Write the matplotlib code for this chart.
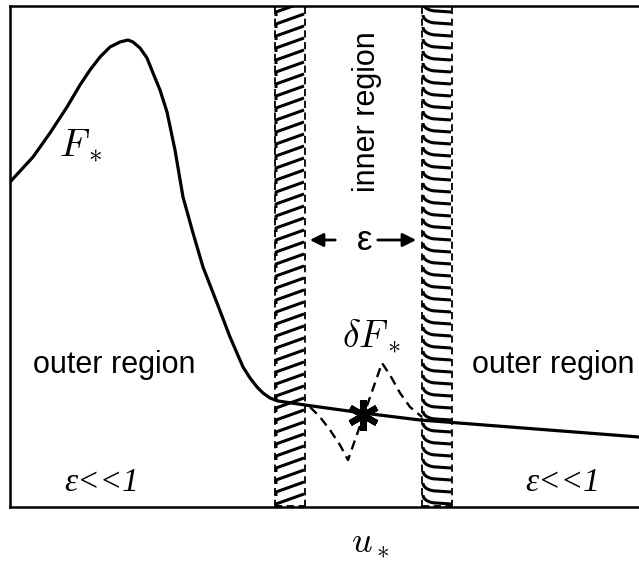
import numpy as np
import matplotlib
matplotlib.use("Agg")
import matplotlib.pyplot as plt

plt.rcParams["mathtext.fontset"] = "cm"

# outer solution F_* (arbitrary units)
u_outer = [0.00, 0.23, 0.40, 0.57, 0.70, 0.80, 0.90, 1.00, 1.10, 1.18, 1.23, 1.30,
           1.37, 1.43, 1.50, 1.57, 1.65, 1.73, 1.83, 1.93, 2.07, 2.20, 2.33, 2.40,
           2.47, 2.53, 2.60, 2.68, 2.95, 3.53, 4.10, 6.29]
F_outer = [3.25, 3.50, 3.74, 4.00, 4.22, 4.37, 4.50, 4.60, 4.65, 4.67, 4.65, 4.59,
           4.49, 4.34, 4.17, 3.95, 3.57, 3.10, 2.74, 2.40, 2.04, 1.70, 1.40, 1.29,
           1.20, 1.14, 1.09, 1.06, 1.02, 0.94, 0.87, 0.70]

# inner perturbation dF_*
u_inner = [3.00, 3.10, 3.20, 3.30, 3.38, 3.72, 3.80, 3.90, 4.00, 4.12]
dF_inner = [1.00, 0.90, 0.77, 0.62, 0.47, 1.44, 1.32, 1.14, 1.00, 0.90]

star_u, star_F = 3.53, 0.92

# matching bands (left edge, right edge)
band_left = (2.65, 2.95)
band_right = (4.12, 4.42)

xmax, ymax = 6.29, 5.01

fig = plt.figure(figsize=(6.39, 5.62), dpi=100)
ax = fig.add_axes([10/639, 55/562, 1 - 10/639, 501/562])
ax.set_xlim(0, xmax)
ax.set_ylim(0, ymax)
ax.set_xticks([])
ax.set_yticks([])
for s in ["left", "bottom", "top"]:
    ax.spines[s].set_linewidth(1.8)
ax.spines["right"].set_visible(False)

# band borders
for x0, x1 in [band_left, band_right]:
    for xb in (x0, x1):
        ax.plot([xb, xb], [0, ymax], color="black", lw=1.3, ls=(0, (4, 2.5)))
    ax.plot([x0, x1], [0.01, 0.01], color="black", lw=1.3, ls=(0, (4, 2.5)))

# left band strokes: slanted lines with a small hook
x0, x1 = band_left
for y in np.arange(0.03, ymax, 0.12):
    ax.plot([x0 + 0.01, x0 + 0.01, x1 - 0.01], [y - 0.04, y, y + 0.10],
            color="black", lw=2.2, solid_capstyle="butt")

# right band strokes: arcs
x0, x1 = band_right
th = np.linspace(np.pi, 1.5 * np.pi, 20)
W = 0.45 * (x1 - x0)
for y in np.arange(0.12, ymax + 0.1, 0.12):
    xs = np.concatenate([x0 + 0.01 + W * (1 + np.cos(th)), [x1 - 0.01]])
    ys = np.concatenate([y + 0.08 * np.sin(th), [y - 0.09]])
    ax.plot(xs, ys, color="black", lw=2.2, solid_capstyle="butt")

# curves
ax.plot(u_outer, F_outer, color="black", lw=2.3, zorder=5, solid_joinstyle="round")
ax.plot(u_inner, dF_inner, color="black", lw=1.7, ls=(0, (4, 2.5)), zorder=5)
ax.plot(star_u, star_F, marker=(6, 2, 0), ms=22, mew=4.5, color="black", zorder=6)

# labels
sans = "Liberation Sans"
ax.text(0.71, 3.62, r"$F_*$", fontsize=28, ha="center", va="center")
ax.text(3.61, 1.71, r"$\delta F_*$", fontsize=27, ha="center", va="center")
ax.text(3.57, 3.95, "inner region", fontsize=22, family=sans, rotation=90,
        ha="center", va="center")
ax.text(1.04, 1.42, "outer region", fontsize=22, family=sans, ha="center", va="center")
ax.text(5.43, 1.42, "outer region", fontsize=22, family=sans, ha="center", va="center")
ax.text(0.92, 0.24, "ε<<1", fontsize=24, family="Liberation Serif", style="italic",
        ha="center", va="center")
ax.text(5.53, 0.24, "ε<<1", fontsize=24, family="Liberation Serif", style="italic",
        ha="center", va="center")
ax.text(3.55, 2.67, "ε", fontsize=25, family=sans, ha="center", va="center")
ax.annotate("", xy=(2.97, 2.67), xytext=(3.28, 2.67),
            arrowprops=dict(arrowstyle="-|>", color="black", lw=2, mutation_scale=20))
ax.annotate("", xy=(4.09, 2.67), xytext=(3.65, 2.67),
            arrowprops=dict(arrowstyle="-|>", color="black", lw=2, mutation_scale=20))
ax.text(3.6, -0.36, r"$u_*$", fontsize=26, ha="center", va="center", clip_on=False)

fig.savefig("out.png", dpi=100)
